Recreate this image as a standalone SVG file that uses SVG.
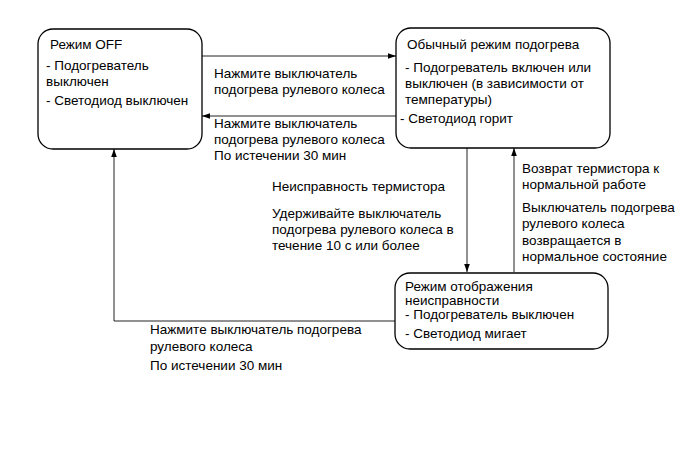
<svg xmlns="http://www.w3.org/2000/svg" width="691" height="465" viewBox="0 0 691 465">
<defs>
<marker id="ah" viewBox="0 0 10 10" refX="10" refY="5" markerWidth="8" markerHeight="8" markerUnits="userSpaceOnUse" orient="auto">
<path d="M0,1.5 L10,5 L0,8.5 Z" fill="#000"/>
</marker>
<style>
.box{fill:#fff;stroke:#000;stroke-width:1.3}
.t{font-family:"Liberation Sans",Arial,sans-serif;font-size:13.5px;fill:#000}
.c{fill:none;stroke:#222;stroke-width:1;marker-end:url(#ah)}
</style>
</defs>
<rect width="691" height="465" fill="#fff"/>
<g id="connectors">
<path class="c" d="M202,56 H396"/>
<path class="c" d="M396,116 H202"/>
<path class="c" d="M467,148 V272"/>
<path class="c" d="M514,272 V148"/>
<path class="c" d="M395,321 H114 V149"/>
</g>
<g id="labels" class="t">
<text x="214" y="78">Нажмите выключатель</text>
<text x="214" y="94">подогрева рулевого колеса</text>
<text x="214" y="128">Нажмите выключатель</text>
<text x="214" y="144">подогрева рулевого колеса</text>
<text x="214" y="160">По истечении 30 мин</text>
<text x="272" y="191">Неисправность термистора</text>
<text x="272" y="218">Удерживайте выключатель</text>
<text x="272" y="234">подогрева рулевого колеса в</text>
<text x="272" y="250">течение 10 с или более</text>
<text x="522" y="173">Возврат термистора к</text>
<text x="522" y="189">нормальной работе</text>
<text x="522" y="212">Выключатель подогрева</text>
<text x="522" y="228">рулевого колеса</text>
<text x="522" y="245">возвращается в</text>
<text x="522" y="261">нормальное состояние</text>
<text x="150" y="334">Нажмите выключатель подогрева</text>
<text x="150" y="351">рулевого колеса</text>
<text x="150" y="370">По истечении 30 мин</text>
</g>
<g id="off">
<rect class="box" x="38" y="29" width="164" height="120" rx="15"/>
<text class="t" x="50" y="49">Режим OFF</text>
<text class="t" x="46" y="70">- Подогреватель</text>
<text class="t" x="46" y="86">выключен</text>
<text class="t" x="46" y="105">- Светодиод выключен</text>
</g>
<g id="normal">
<rect class="box" x="396" y="28" width="214" height="120" rx="15"/>
<text class="t" x="407" y="49">Обычный режим подогрева</text>
<text class="t" x="405" y="72">- Подогреватель включен или</text>
<text class="t" x="405" y="88">выключен (в зависимости от</text>
<text class="t" x="405" y="104">температуры)</text>
<text class="t" x="400" y="123">- Светодиод горит</text>
</g>
<g id="fault">
<rect class="box" x="395" y="273" width="213" height="76" rx="15"/>
<text class="t" x="405" y="291">Режим отображения</text>
<text class="t" x="405" y="305">неисправности</text>
<text class="t" x="405" y="319">- Подогреватель выключен</text>
<text class="t" x="405" y="338">- Светодиод мигает</text>
</g>
</svg>
